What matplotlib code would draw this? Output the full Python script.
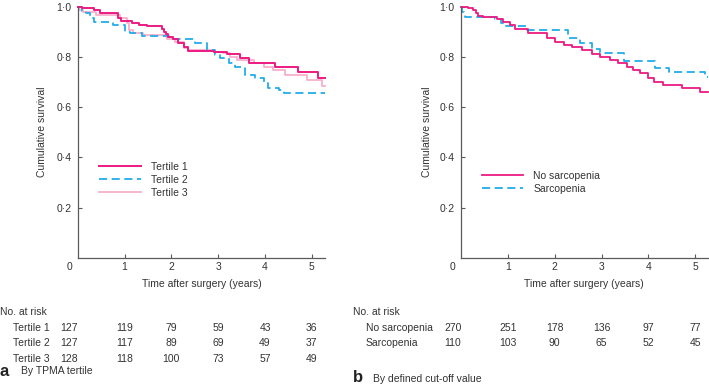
import matplotlib
matplotlib.use("Agg")
import matplotlib.pyplot as plt
from matplotlib import transforms
from matplotlib.lines import Line2D

plt.rcParams['font.family'] = ['Liberation Sans', 'DejaVu Sans']

# ---------------- data ----------------
followup_end = 5.28

t1_times = [0, 0.09, 0.35, 0.48, 0.87, 0.92, 1.15, 1.30, 1.47, 1.79, 1.84, 1.88, 1.92, 2.04, 2.15, 2.26, 2.36, 2.90, 3.18, 3.47, 3.65, 4.22, 4.71, 5.14]
t1_surv  = [1.0, 0.994, 0.987, 0.973, 0.954, 0.944, 0.934, 0.927, 0.923, 0.912, 0.900, 0.890, 0.881, 0.870, 0.854, 0.841, 0.825, 0.821, 0.811, 0.794, 0.777, 0.758, 0.739, 0.717]

t2_times = [0, 0.09, 0.18, 0.27, 0.35, 0.76, 1.01, 1.12, 1.37, 1.94, 2.51, 2.76, 2.93, 3.04, 3.22, 3.36, 3.57, 3.79, 3.97, 4.07, 4.29, 4.40]
t2_surv  = [1.0, 0.984, 0.973, 0.954, 0.940, 0.927, 0.900, 0.894, 0.883, 0.870, 0.854, 0.827, 0.807, 0.794, 0.774, 0.761, 0.728, 0.714, 0.697, 0.675, 0.668, 0.655]

t3_times = [0, 0.02, 0.12, 0.40, 0.90, 1.05, 1.10, 1.19, 1.40, 1.90, 2.08, 2.26, 2.36, 2.90, 3.10, 3.25, 3.40, 3.76, 3.97, 4.18, 4.43, 4.89, 5.21]
t3_surv  = [1.0, 0.987, 0.980, 0.967, 0.954, 0.934, 0.908, 0.894, 0.887, 0.870, 0.861, 0.834, 0.827, 0.821, 0.814, 0.801, 0.787, 0.774, 0.761, 0.747, 0.728, 0.708, 0.685]

ns_times = [0, 0.03, 0.16, 0.25, 0.33, 0.37, 0.48, 0.76, 0.90, 1.05, 1.15, 1.44, 1.83, 2.01, 2.19, 2.37, 2.58, 2.79, 2.97, 3.18, 3.36, 3.54, 3.68, 3.82, 4.00, 4.11, 4.32, 4.72, 5.11]
ns_surv  = [1.0, 0.997, 0.993, 0.987, 0.975, 0.963, 0.960, 0.950, 0.940, 0.927, 0.910, 0.894, 0.874, 0.861, 0.847, 0.838, 0.828, 0.811, 0.798, 0.787, 0.774, 0.761, 0.747, 0.734, 0.714, 0.701, 0.688, 0.675, 0.662]

sa_times = [0, 0.03, 0.06, 0.08, 0.72, 0.86, 0.97, 1.40, 2.29, 2.54, 2.79, 2.97, 3.48, 4.14, 4.45, 5.21]
sa_surv  = [1.0, 0.980, 0.967, 0.958, 0.950, 0.934, 0.924, 0.907, 0.874, 0.854, 0.830, 0.817, 0.783, 0.754, 0.741, 0.721]

risk_times = [0, 1, 2, 3, 4, 5]
tertile_labels = ['Tertile 1', 'Tertile 2', 'Tertile 3']
tertile_risk = [[127, 119, 79, 59, 43, 36],
                [127, 117, 89, 69, 49, 37],
                [128, 118, 100, 73, 57, 49]]
sarc_labels = ['No sarcopenia', 'Sarcopenia']
sarc_risk = [[270, 251, 178, 136, 97, 77],
             [110, 103, 90, 65, 52, 45]]

yticks = [0.2, 0.4, 0.6, 0.8, 1.0]
ytick_labels = ['0·2', '0·4', '0·6', '0·8', '1·0']
xticks = [1, 2, 3, 4, 5]

# ---------------- style ----------------
MAG = '#ec1a82'
CYAN = '#22aee8'
PINK = '#f7a8c8'
TXT = '#333333'
AXC = '#5a5a5a'
FS = 7.5

W, H = 709, 387
fig = plt.figure(figsize=(W / 100, H / 100), dpi=100)


def px(x, y):
    return x / W, 1 - y / H


def style_axes(ax):
    ax.set_xlim(0, followup_end)
    ax.set_ylim(0, 1.0)
    for s in ['top', 'right']:
        ax.spines[s].set_visible(False)
    for s in ['left', 'bottom']:
        ax.spines[s].set_color(AXC)
        ax.spines[s].set_linewidth(0.9)
    ax.set_xticks(xticks)
    ax.set_xticklabels([str(v) for v in xticks])
    ax.set_yticks(yticks)
    ax.set_yticklabels(ytick_labels)
    ax.tick_params(direction='in', length=3.2, width=0.8, color=AXC,
                   labelsize=FS, labelcolor=TXT)
    ax.tick_params(axis='y', pad=4.5)
    ax.tick_params(axis='x', pad=3.0)
    ax.patch.set_alpha(0)


def step(ax, times, surv, **kw):
    tt = list(times) + [followup_end]
    ss = list(surv) + [surv[-1]]
    ax.plot(tt, ss, drawstyle='steps-post', clip_on=False, **kw)


x0a, x1a = 77.7, 325.0
ytop, ybot = 6.7, 257.7
ax1 = fig.add_axes([x0a / W, 1 - ybot / H, (x1a - x0a) / W, (ybot - ytop) / H])
x0b, x1b = 461.0, 708.3
ax2 = fig.add_axes([x0b / W, 1 - ybot / H, (x1b - x0b) / W, (ybot - ytop) / H])

for ax in (ax1, ax2):
    style_axes(ax)

step(ax1, t3_times, t3_surv, color=PINK, lw=1.2)
step(ax1, t2_times, t2_surv, color=CYAN, lw=1.3, dashes=(4.5, 2.5))
step(ax1, t1_times, t1_surv, color=MAG, lw=1.4)

step(ax2, sa_times, sa_surv, color=CYAN, lw=1.3, dashes=(4.5, 2.5))
step(ax2, ns_times, ns_surv, color=MAG, lw=1.3)

h1 = [Line2D([], [], color=MAG, lw=1.4), Line2D([], [], color=CYAN, lw=1.3, dashes=(4.5, 2.5)),
      Line2D([], [], color=PINK, lw=1.2)]
leg1 = fig.legend(h1, tertile_labels, loc='upper left', bbox_to_anchor=px(99.3, 162.0),
                  frameon=False, fontsize=FS, handlelength=4.0, handletextpad=0.95,
                  labelspacing=0.28, borderpad=0, borderaxespad=0)
for t in leg1.get_texts():
    t.set_color(TXT)
h2 = [Line2D([], [], color=MAG, lw=1.3), Line2D([], [], color=CYAN, lw=1.3, dashes=(4.5, 2.5))]
leg2 = fig.legend(h2, sarc_labels, loc='upper left', bbox_to_anchor=px(481.7, 171.0),
                  frameon=False, fontsize=FS, handlelength=4.0, handletextpad=0.95,
                  labelspacing=0.28, borderpad=0, borderaxespad=0)
for t in leg2.get_texts():
    t.set_color(TXT)

# axis labels
for ax, ylx, xlc in ((ax1, 41.7, 201.7), (ax2, 426.7, 584.0)):
    fig.text(*px(ylx, 132.2), 'Cumulative survival', rotation=90, ha='center', va='center',
             fontsize=FS, color=TXT)
    fig.text(*px(xlc, 284.0), 'Time after surgery (years)', ha='center', va='center',
             fontsize=FS, color=TXT)
    # origin label "0" sits just left of the axis corner
    tr = transforms.offset_copy(transforms.blended_transform_factory(ax.transData, fig.transFigure),
                                fig=fig, x=-8.3, y=0, units='dots')
    fig.text(0, 1 - 266.7 / H, '0', transform=tr, ha='center', va='center', fontsize=FS, color=TXT)


def risk_table(ax, labels, rows, label_x, no_risk_x, row_y):
    fig.text(*px(no_risk_x, 312.3), 'No. at risk', ha='left', va='center', fontsize=FS, color=TXT)
    base = transforms.blended_transform_factory(ax.transData, fig.transFigure)
    for lab, vals, y in zip(labels, rows, row_y):
        fig.text(*px(label_x, y), lab, ha='left', va='center', fontsize=FS, color=TXT)
        for t, v in zip(risk_times, vals):
            off = -8.3 if t == 0 else 0
            tr = transforms.offset_copy(base, fig=fig, x=off, y=0, units='dots')
            fig.text(t, 1 - y / H, str(v), transform=tr, ha='center', va='center',
                     fontsize=FS, color=TXT)


risk_table(ax1, tertile_labels, tertile_risk, 13.3, 0.0, [327.7, 343.3, 359.3])
risk_table(ax2, sarc_labels, sarc_risk, 366.0, 353.3, [327.7, 343.3])

fig.text(*px(0.0, 371.0), 'a', ha='left', va='center', fontsize=12, fontweight='bold', color='#222222')
fig.text(*px(20.7, 371.5), 'By TPMA tertile', ha='left', va='center', fontsize=FS, color=TXT)
fig.text(*px(353.0, 378.0), 'b', ha='left', va='center', fontsize=12, fontweight='bold', color='#222222')
fig.text(*px(373.5, 378.5), 'By defined cut-off value', ha='left', va='center', fontsize=FS, color=TXT)

fig.savefig('out.png', dpi=100)
